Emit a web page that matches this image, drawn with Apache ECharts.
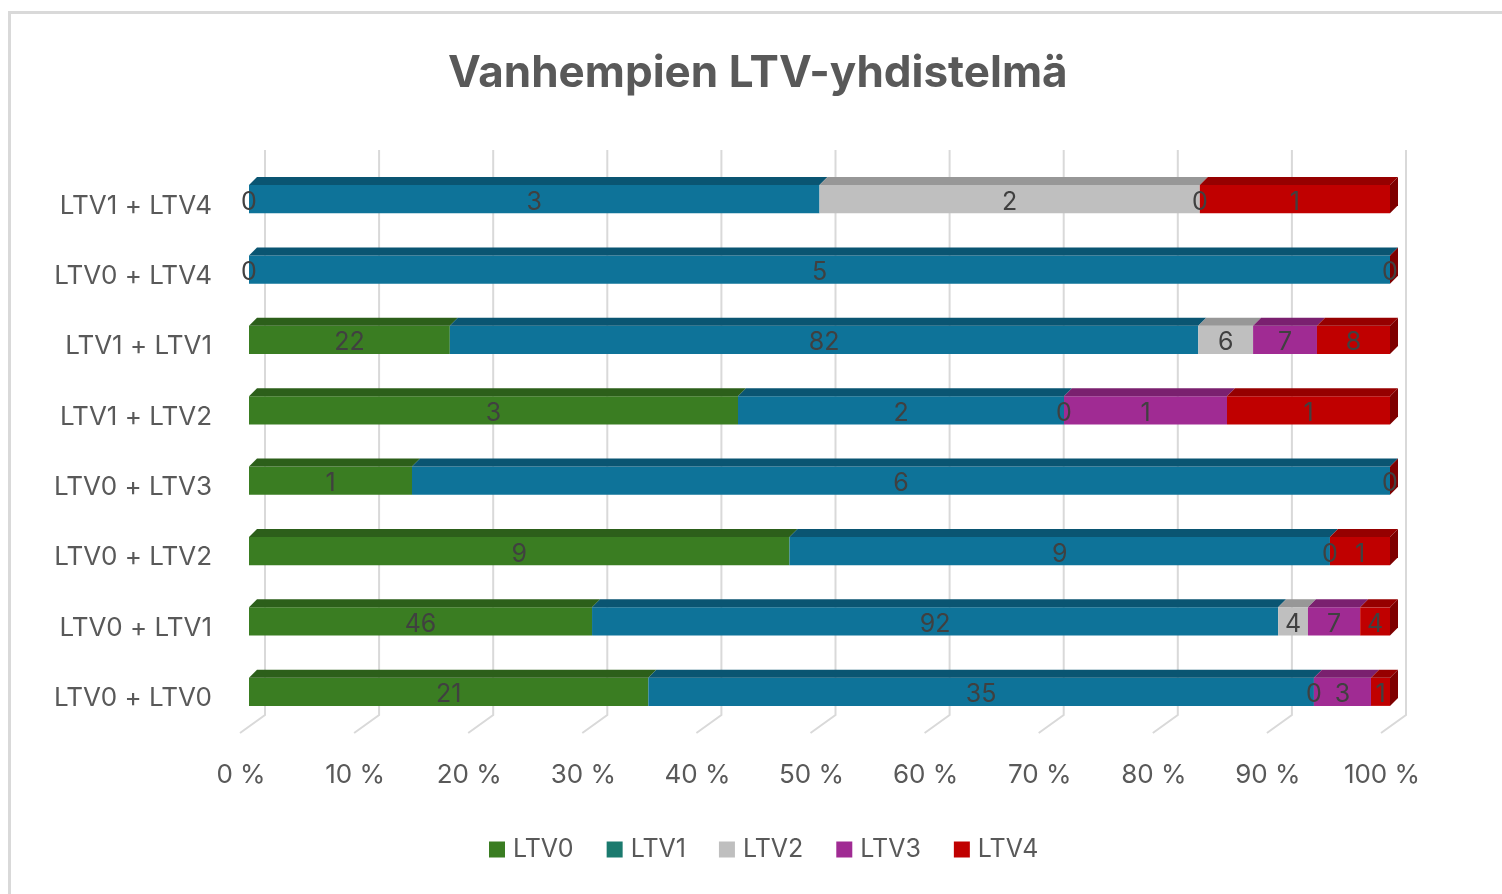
<!DOCTYPE html>
<html>
<head>
<meta charset="utf-8">
<title>Vanhempien LTV-yhdistelmä</title>
<script src="https://cdn.jsdelivr.net/npm/echarts@6.0.0/dist/echarts.min.js"></script>
<style>
  html, body { margin: 0; padding: 0; background: #fff; overflow: hidden; }
  .frame { position: absolute; left: 8px; top: 11px; width: 1600px; height: 1000px;
           border-left: 3px solid #d9d9d9; border-top: 3px solid #d9d9d9; }
  .chart { position: absolute; left: 0; top: 0; width: 1502px; height: 894px; }
</style>
</head>
<body>
<div class="frame"></div>
<div class="chart"></div>
<script>
// categories, bottom to top
var categories = ['LTV0 + LTV0', 'LTV0 + LTV1', 'LTV0 + LTV2', 'LTV0 + LTV3',
                  'LTV1 + LTV2', 'LTV1 + LTV1', 'LTV0 + LTV4', 'LTV1 + LTV4'];
var seriesNames = ['LTV0', 'LTV1', 'LTV2', 'LTV3', 'LTV4'];
// counts per category (null = empty cell, no label)
var ltv0 = [21, 46, 9, 1, 3, 22, 0, 0];
var ltv1 = [35, 92, 9, 6, 2, 82, 5, 3];
var ltv2 = [0, 4, null, null, 0, 6, null, 2];
var ltv3 = [3, 7, 0, null, 1, 7, null, 0];
var ltv4 = [1, 4, 1, 0, 1, 8, 0, 1];
var ticks = [0, 10, 20, 30, 40, 50, 60, 70, 80, 90, 100];

(function() {
  var myChart = echarts.init(document.querySelector('.chart'));
  var values = [ltv0, ltv1, ltv2, ltv3, ltv4];
  var frontColor = ['#3a7d22', '#0e7399', '#bfbfbf', '#a02b93', '#c00000'];
  var topColor = ['#2c5f1a', '#0a5572', '#979797', '#7a206f', '#960000'];
  var sideColor = '#7e0000';
  var D = 8; // depth of the 3d look
  var font = 'Inter';

  // totals for the 100 % stack
  var totals = categories.map(function(c, i) {
    var s = 0;
    values.forEach(function(v) { s += v[i] || 0; });
    return s;
  });

  var series = [];
  // back wall gridlines with the slanted floor part
  series.push({
    type: 'custom',
    name: 'grid',
    z: 1,
    silent: true,
    encode: { x: 0, y: 1 },
    data: ticks.map(function(t) { return [t, 0]; }),
    renderItem: function(params, api) {
      var cs = params.coordSys;
      var x = api.coord([api.value(0), 0])[0] + 16;
      return {
        type: 'polyline',
        shape: { points: [[x, cs.y - 14], [x, cs.y + cs.height - 12], [x - 25, cs.y + cs.height + 6]] },
        style: { stroke: '#d9d9d9', lineWidth: 2, fill: null }
      };
    }
  });

  var acc = categories.map(function() { return 0; });
  values.forEach(function(vals, si) {
    var data = [];
    vals.forEach(function(v, ci) {
      if (v === null) return;
      var start = acc[ci];
      var end = start + v / totals[ci] * 100;
      acc[ci] = end;
      data.push([start, end, ci, v]);
    });
    var isLast = si === values.length - 1;
    series.push({
      type: 'custom',
      name: seriesNames[si],
      z: 2,
      itemStyle: { color: frontColor[si] },
      encode: { x: [0, 1], y: 2 },
      data: data,
      renderItem: function(params, api) {
        var p0 = api.coord([api.value(0), api.value(2)]);
        var p1 = api.coord([api.value(1), api.value(2)]);
        var h = api.size([0, 1])[1] * 0.4;
        var yTop = p0[1] - h / 2;
        var kids = [
          { type: 'rect', shape: { x: p0[0], y: yTop, width: p1[0] - p0[0], height: h },
            style: { fill: frontColor[si] } },
          { type: 'polygon',
            shape: { points: [[p0[0], yTop], [p1[0], yTop], [p1[0] + D, yTop - D], [p0[0] + D, yTop - D]] },
            style: { fill: topColor[si] } }
        ];
        if (isLast) {
          kids.push({ type: 'polygon',
            shape: { points: [[p1[0], yTop], [p1[0] + D, yTop - D], [p1[0] + D, yTop + h - D], [p1[0], yTop + h]] },
            style: { fill: sideColor } });
        }
        kids.push({ type: 'text', z2: 100,
          style: { text: String(api.value(3)), x: (p0[0] + p1[0]) / 2, y: p0[1] + 3,
                   align: 'center', verticalAlign: 'middle',
                   fill: '#404040', fontSize: 25, fontFamily: font } });
        return { type: 'group', children: kids };
      }
    });
  });

  var option = {
    textStyle: { fontFamily: font },
    title: {
      text: 'Vanhempien LTV-yhdistelmä',
      left: 443,
      top: 47,
      textStyle: { fontSize: 44, fontWeight: 'bold', color: '#595959', fontFamily: font }
    },
    legend: {
      left: 484,
      top: 832,
      icon: 'rect',
      itemWidth: 16,
      itemHeight: 16,
      itemGap: 33,
      textStyle: { fontSize: 25, color: '#595959', padding: [0, 0, 0, 3] },
      data: [
        { name: 'LTV0' },
        { name: 'LTV1', itemStyle: { color: '#1b7a6e' } },
        { name: 'LTV2' },
        { name: 'LTV3' },
        { name: 'LTV4' }
      ]
    },
    grid: {
      left: 249,
      top: 164,
      width: 1141,
      height: 563
    },
    xAxis: {
      type: 'value',
      min: 0,
      max: 100,
      interval: 10,
      axisLine: { show: false },
      axisTick: { show: false },
      splitLine: { show: false },
      axisLabel: {
        formatter: '{value} %',
        color: '#595959',
        fontSize: 26,
        margin: 35,
        padding: [0, 16, 0, 0]
      }
    },
    yAxis: {
      type: 'category',
      data: categories,
      axisLine: { show: false },
      axisTick: { show: false },
      axisLabel: {
        color: '#595959',
        fontSize: 26,
        margin: 37,
        verticalAlign: 'top',
        lineHeight: 13
      }
    },
    series: series
  };
  myChart.setOption(option);
  window.addEventListener('resize', function() {
    myChart.resize();
  });
})();
</script>
</body>
</html>
